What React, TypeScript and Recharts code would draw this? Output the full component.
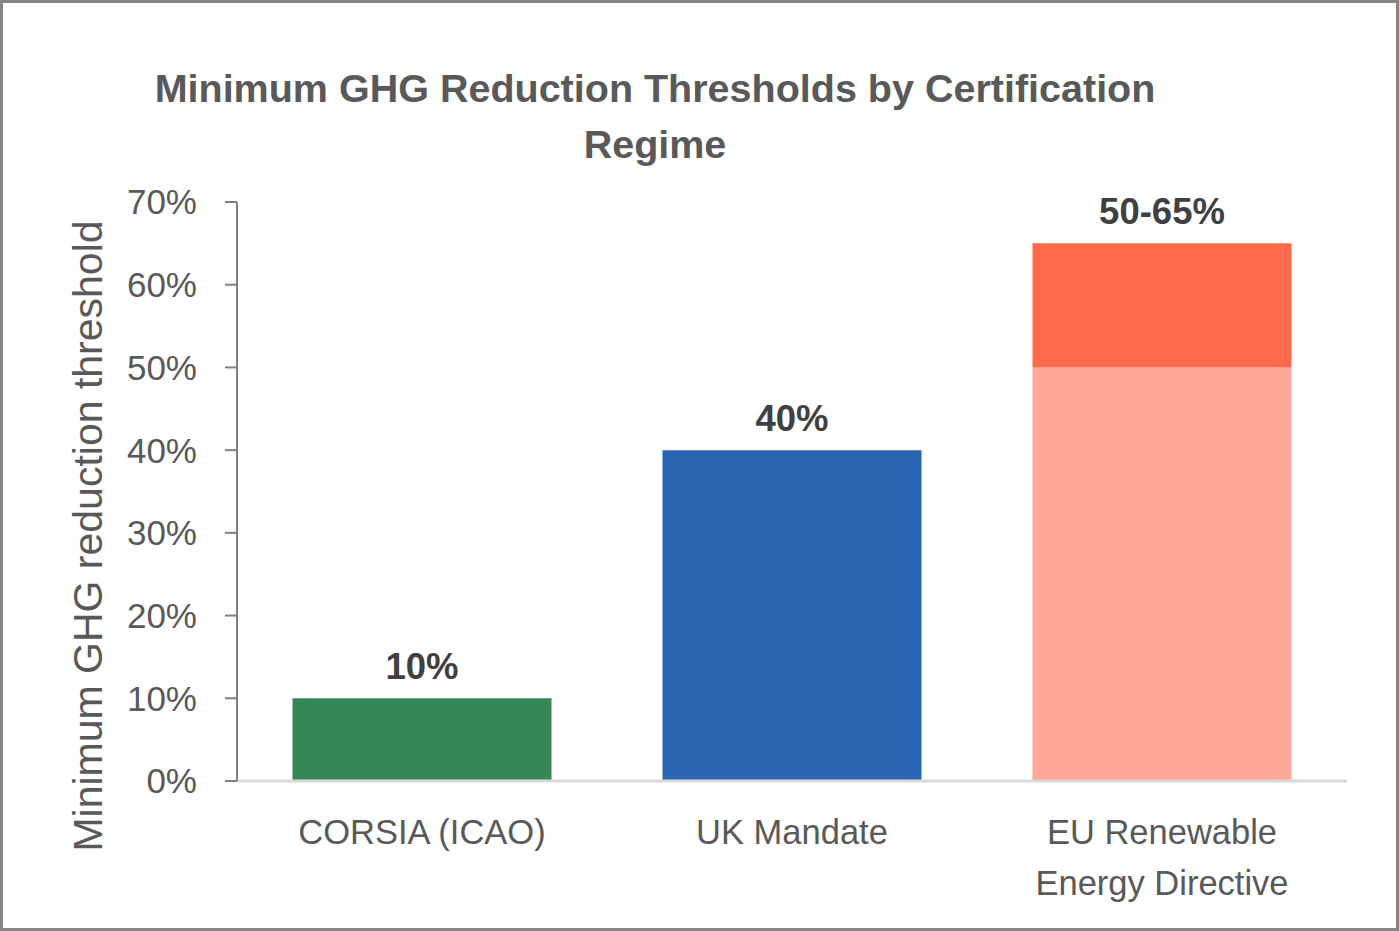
import { BarChart, Bar, XAxis, YAxis, Cell, LabelList } from 'recharts';

const CATEGORIES = ['CORSIA (ICAO)', 'UK Mandate', 'EU Renewable Energy Directive'];
const BASE_VALUES = [10, 40, 50];
const RANGE_VALUES = [0, 0, 15];
const VALUE_LABELS = ['10%', '40%', '50-65%'];
const BASE_COLORS = ['#358855', '#2c66b0', '#fda898'];
const RANGE_COLOR = '#ff6a4c';
const Y_TICKS = [0, 10, 20, 30, 40, 50, 60, 70];

const FONT = '"Liberation Sans", Arial, sans-serif';
const TEXT = '#595959';

const data = CATEGORIES.map((name, i) => ({
  name,
  base: BASE_VALUES[i],
  range: RANGE_VALUES[i],
  label: VALUE_LABELS[i],
}));

// greedy word wrap for the category labels
function wrap(text: string, max: number) {
  const lines: string[] = [];
  let cur = '';
  text.split(' ').forEach(w => {
    const next = cur ? cur + ' ' + w : w;
    if (next.length > max && cur) {
      lines.push(cur);
      cur = w;
    } else {
      cur = next;
    }
  });
  if (cur) lines.push(cur);
  return lines;
}

function CategoryTick(props: any) {
  const { x, y, payload } = props;
  const lines = wrap(payload.value, 16);
  return (
    <text x={x} y={y} textAnchor="middle" fill={TEXT} fontSize={34.5} fontFamily={FONT}>
      {lines.map((l, i) => (
        <tspan key={i} x={x} dy={i === 0 ? 55 : 51}>{l}</tspan>
      ))}
    </text>
  );
}

// label sits above the whole stack: base bar top minus the range segment
function ValueLabel(props: any) {
  const { x, y, width, height, index } = props;
  const perUnit = height / BASE_VALUES[index];
  const top = y - RANGE_VALUES[index] * perUnit;
  return (
    <text
      x={x + width / 2}
      y={top - 19}
      textAnchor="middle"
      fill="#404040"
      fontSize={36.5}
      fontWeight="bold"
      fontFamily={FONT}
    >
      {data[index].label}
    </text>
  );
}

export default function App() {
  return (
    <div style={{ position: 'relative', width: 1399, height: 931, background: '#fff' }}>
      <style>{'body{margin:0}'}</style>
      <div
        style={{
          position: 'absolute',
          left: 140,
          top: 60,
          width: 1030,
          textAlign: 'center',
          fontFamily: FONT,
          fontWeight: 'bold',
          fontSize: 39.5,
          lineHeight: '56px',
          color: TEXT,
        }}
      >
        Minimum GHG Reduction Thresholds by Certification Regime
      </div>
      <BarChart
        width={1399}
        height={931}
        data={data}
        margin={{ top: 202, right: 52, left: 0, bottom: 0 }}
        barCategoryGap="15%"
      >
        <XAxis
          dataKey="name"
          height={150}
          axisLine={{ stroke: '#d9d9d9', strokeWidth: 3 }}
          tickLine={false}
          tick={<CategoryTick />}
          interval={0}
        />
        <YAxis
          width={237}
          domain={[0, 70]}
          ticks={Y_TICKS}
          tickFormatter={(v) => `${v}%`}
          axisLine={{ stroke: '#808080', strokeWidth: 2 }}
          tickLine={{ stroke: '#808080', strokeWidth: 2 }}
          tickSize={12}
          tickMargin={28}
          tick={{ fill: TEXT, fontSize: 35, fontFamily: FONT }}
          label={{
            content: () => (
              <text
                x={88}
                y={536}
                transform="rotate(-90, 88, 536)"
                textAnchor="middle"
                dominantBaseline="central"
                fill={TEXT}
                fontSize={41}
                fontFamily={FONT}
              >
                Minimum GHG reduction threshold
              </text>
            ),
          }}
        />
        <Bar dataKey="base" stackId="a" isAnimationActive={false}>
          {data.map((d, i) => (
            <Cell key={d.name} fill={BASE_COLORS[i]} />
          ))}
          <LabelList dataKey="label" content={<ValueLabel />} />
        </Bar>
        <Bar dataKey="range" stackId="a" fill={RANGE_COLOR} isAnimationActive={false} />
      </BarChart>
      <div
        style={{
          position: 'absolute',
          inset: 0,
          border: '3px solid #868686',
          pointerEvents: 'none',
        }}
      />
    </div>
  );
}
